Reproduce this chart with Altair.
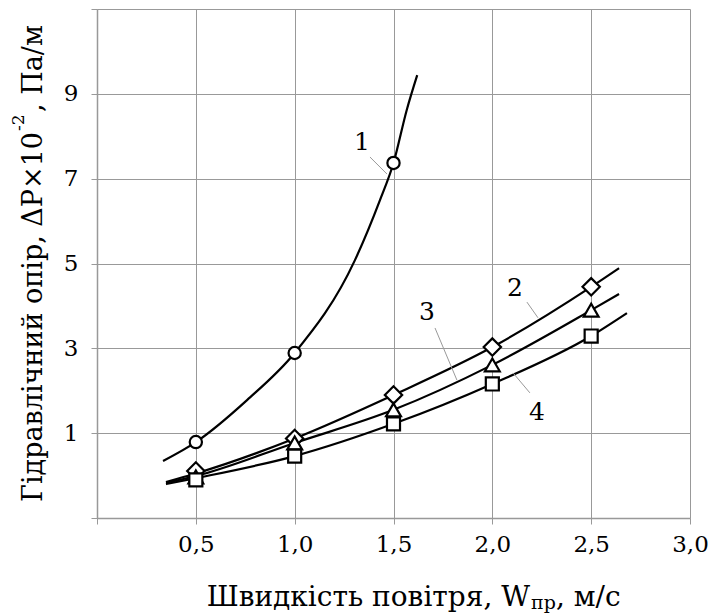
import altair as alt
import pandas as pd

# ---- data ----
marker_x = [0.5, 1.0, 1.5, 2.0, 2.5]
m1_y = [0.79, 2.89, 7.37]                 # curve 1 (circles), x = 0.5, 1.0, 1.5
m2_y = [0.11, 0.875, 1.90, 3.03, 4.45]    # curve 2 (diamonds)
m3_y = [-0.03, 0.77, 1.55, 2.61, 3.90]    # curve 3 (triangles)
m4_y = [-0.10, 0.46, 1.22, 2.16, 3.29]    # curve 4 (squares)

c1_x = [0.334, 0.5, 0.759, 1.0, 1.305, 1.432, 1.5, 1.567, 1.620]
c1_y = [0.345, 0.79, 1.78, 2.89, 5.08, 6.50, 7.37, 8.62, 9.44]
c2_x = [0.349, 0.5, 1.0, 1.5, 2.0, 2.5, 2.641]
c2_y = [-0.15, 0.05, 0.875, 1.90, 3.03, 4.45, 4.89]
c3_x = [0.349, 0.5, 1.0, 1.5, 2.0, 2.5, 2.641]
c3_y = [-0.17, -0.01, 0.77, 1.55, 2.61, 3.90, 4.28]
c4_x = [0.349, 0.5, 1.0, 1.5, 2.0, 2.5, 2.681]
c4_y = [-0.20, -0.06, 0.46, 1.22, 2.16, 3.29, 3.83]

label_text = ["1", "2", "3", "4"]
label_x = [1.341, 2.115, 1.669, 2.226]
label_y = [7.865, 4.42, 3.86, 1.50]
leader_x1 = [1.381, 2.175, 1.710, 2.190]
leader_y1 = [7.51, 4.09, 3.48, 1.95]
leader_x2 = [1.467, 2.231, 1.821, 2.105]
leader_y2 = [7.11, 3.72, 2.25, 2.42]

x_ticks = [0, 0.5, 1.0, 1.5, 2.0, 2.5, 3.0]
y_ticks = [-1, 1, 3, 5, 7, 9, 11]

FONT = "DejaVu Serif"

# ---- tables ----
curves = pd.concat([
    pd.DataFrame({"x": c1_x, "y": c1_y, "s": "1"}),
    pd.DataFrame({"x": c2_x, "y": c2_y, "s": "2"}),
    pd.DataFrame({"x": c3_x, "y": c3_y, "s": "3"}),
    pd.DataFrame({"x": c4_x, "y": c4_y, "s": "4"}),
], ignore_index=True)

marker_sets = [
    (pd.DataFrame({"x": marker_x[:3], "y": m1_y}), "circle", 150),
    (pd.DataFrame({"x": marker_x, "y": m2_y}), "diamond", 300),
    (pd.DataFrame({"x": marker_x, "y": m3_y}), "triangle-up", 220),
    (pd.DataFrame({"x": marker_x, "y": m4_y}), "square", 170),
]

labels = pd.DataFrame({"t": label_text, "x": label_x, "y": label_y})
leaders = pd.DataFrame({"x": leader_x1, "y": leader_y1, "x2": leader_x2, "y2": leader_y2})

xs = alt.Scale(domain=[0, 3], nice=False, zero=False)
ys = alt.Scale(domain=[-1, 11], nice=False, zero=False)

x_axis = alt.Axis(values=x_ticks, title=None, grid=True,
                  labelExpr="datum.value == 0 ? '' : replace(format(datum.value, '.1f'), '.', ',')",
                  labelFlush=False, labelOverlap=False, labelPadding=9)
y_axis = alt.Axis(values=y_ticks, title=None, grid=True,
                  labelExpr="(datum.value < 0 || datum.value > 10) ? '' : datum.value",
                  labelOverlap=False, labelPadding=13)

lines = alt.Chart(curves).mark_line(color="black", strokeWidth=2.2, interpolate="monotone").encode(
    x=alt.X("x:Q", scale=xs, axis=x_axis),
    y=alt.Y("y:Q", scale=ys, axis=y_axis),
    detail="s:N",
)

point_layers = [
    alt.Chart(df).mark_point(shape=shp, size=sz, filled=True, fill="white", stroke="black",
                             strokeWidth=2.2, opacity=1).encode(
        x=alt.X("x:Q", scale=xs), y=alt.Y("y:Q", scale=ys))
    for df, shp, sz in marker_sets
]

leader_rules = alt.Chart(leaders).mark_rule(color="#999999", strokeWidth=1).encode(
    x=alt.X("x:Q", scale=xs), y=alt.Y("y:Q", scale=ys), x2="x2:Q", y2="y2:Q"
)

num_labels = alt.Chart(labels).mark_text(font=FONT, fontSize=25, color="black",
                                         baseline="middle", align="center").encode(
    x=alt.X("x:Q", scale=xs), y=alt.Y("y:Q", scale=ys), text="t:N"
)

def txt(s, px, py, size, align="left", angle=0):
    return alt.Chart(pd.DataFrame({"t": [s]})).mark_text(
        font=FONT, fontSize=size, color="black", align=align,
        baseline="alphabetic", angle=angle
    ).encode(x=alt.value(px), y=alt.value(py), text="t:N")

OX, OY = 97, 9
x_title = [
    txt("Швидкість повітря, W", 530 - OX, 606 - OY, 28, "right"),
    txt("пр", 531 - OX, 609 - OY, 19, "left"),
    txt(", м/с", 556 - OX, 606 - OY, 28, "left"),
]
y_title = [
    txt("Гідравлічний опір,  ΔP×10", 42 - OX, 132 - OY, 27, "right", 270),
    txt("-2", 24 - OX, 131 - OY, 17, "left", 270),
    txt(", Па/м", 42 - OX, 112 - OY, 27, "left", 270),
]

chart = alt.layer(lines, leader_rules, *point_layers, num_labels, *x_title, *y_title).properties(
    width=593, height=509,
    autosize=alt.AutoSizeParams(type="none"),
    padding={"left": 97, "top": 9, "right": 19, "bottom": 96},
).configure_view(stroke=None).configure_axis(
    gridColor="#999999", gridWidth=1, domainColor="#999999", domainWidth=1.5,
    tickColor="#999999", tickSize=6, labelFont=FONT, labelFontSize=23, labelColor="black",
)

chart.save("out.html", embed_options={"renderer": "svg", "actions": False})
